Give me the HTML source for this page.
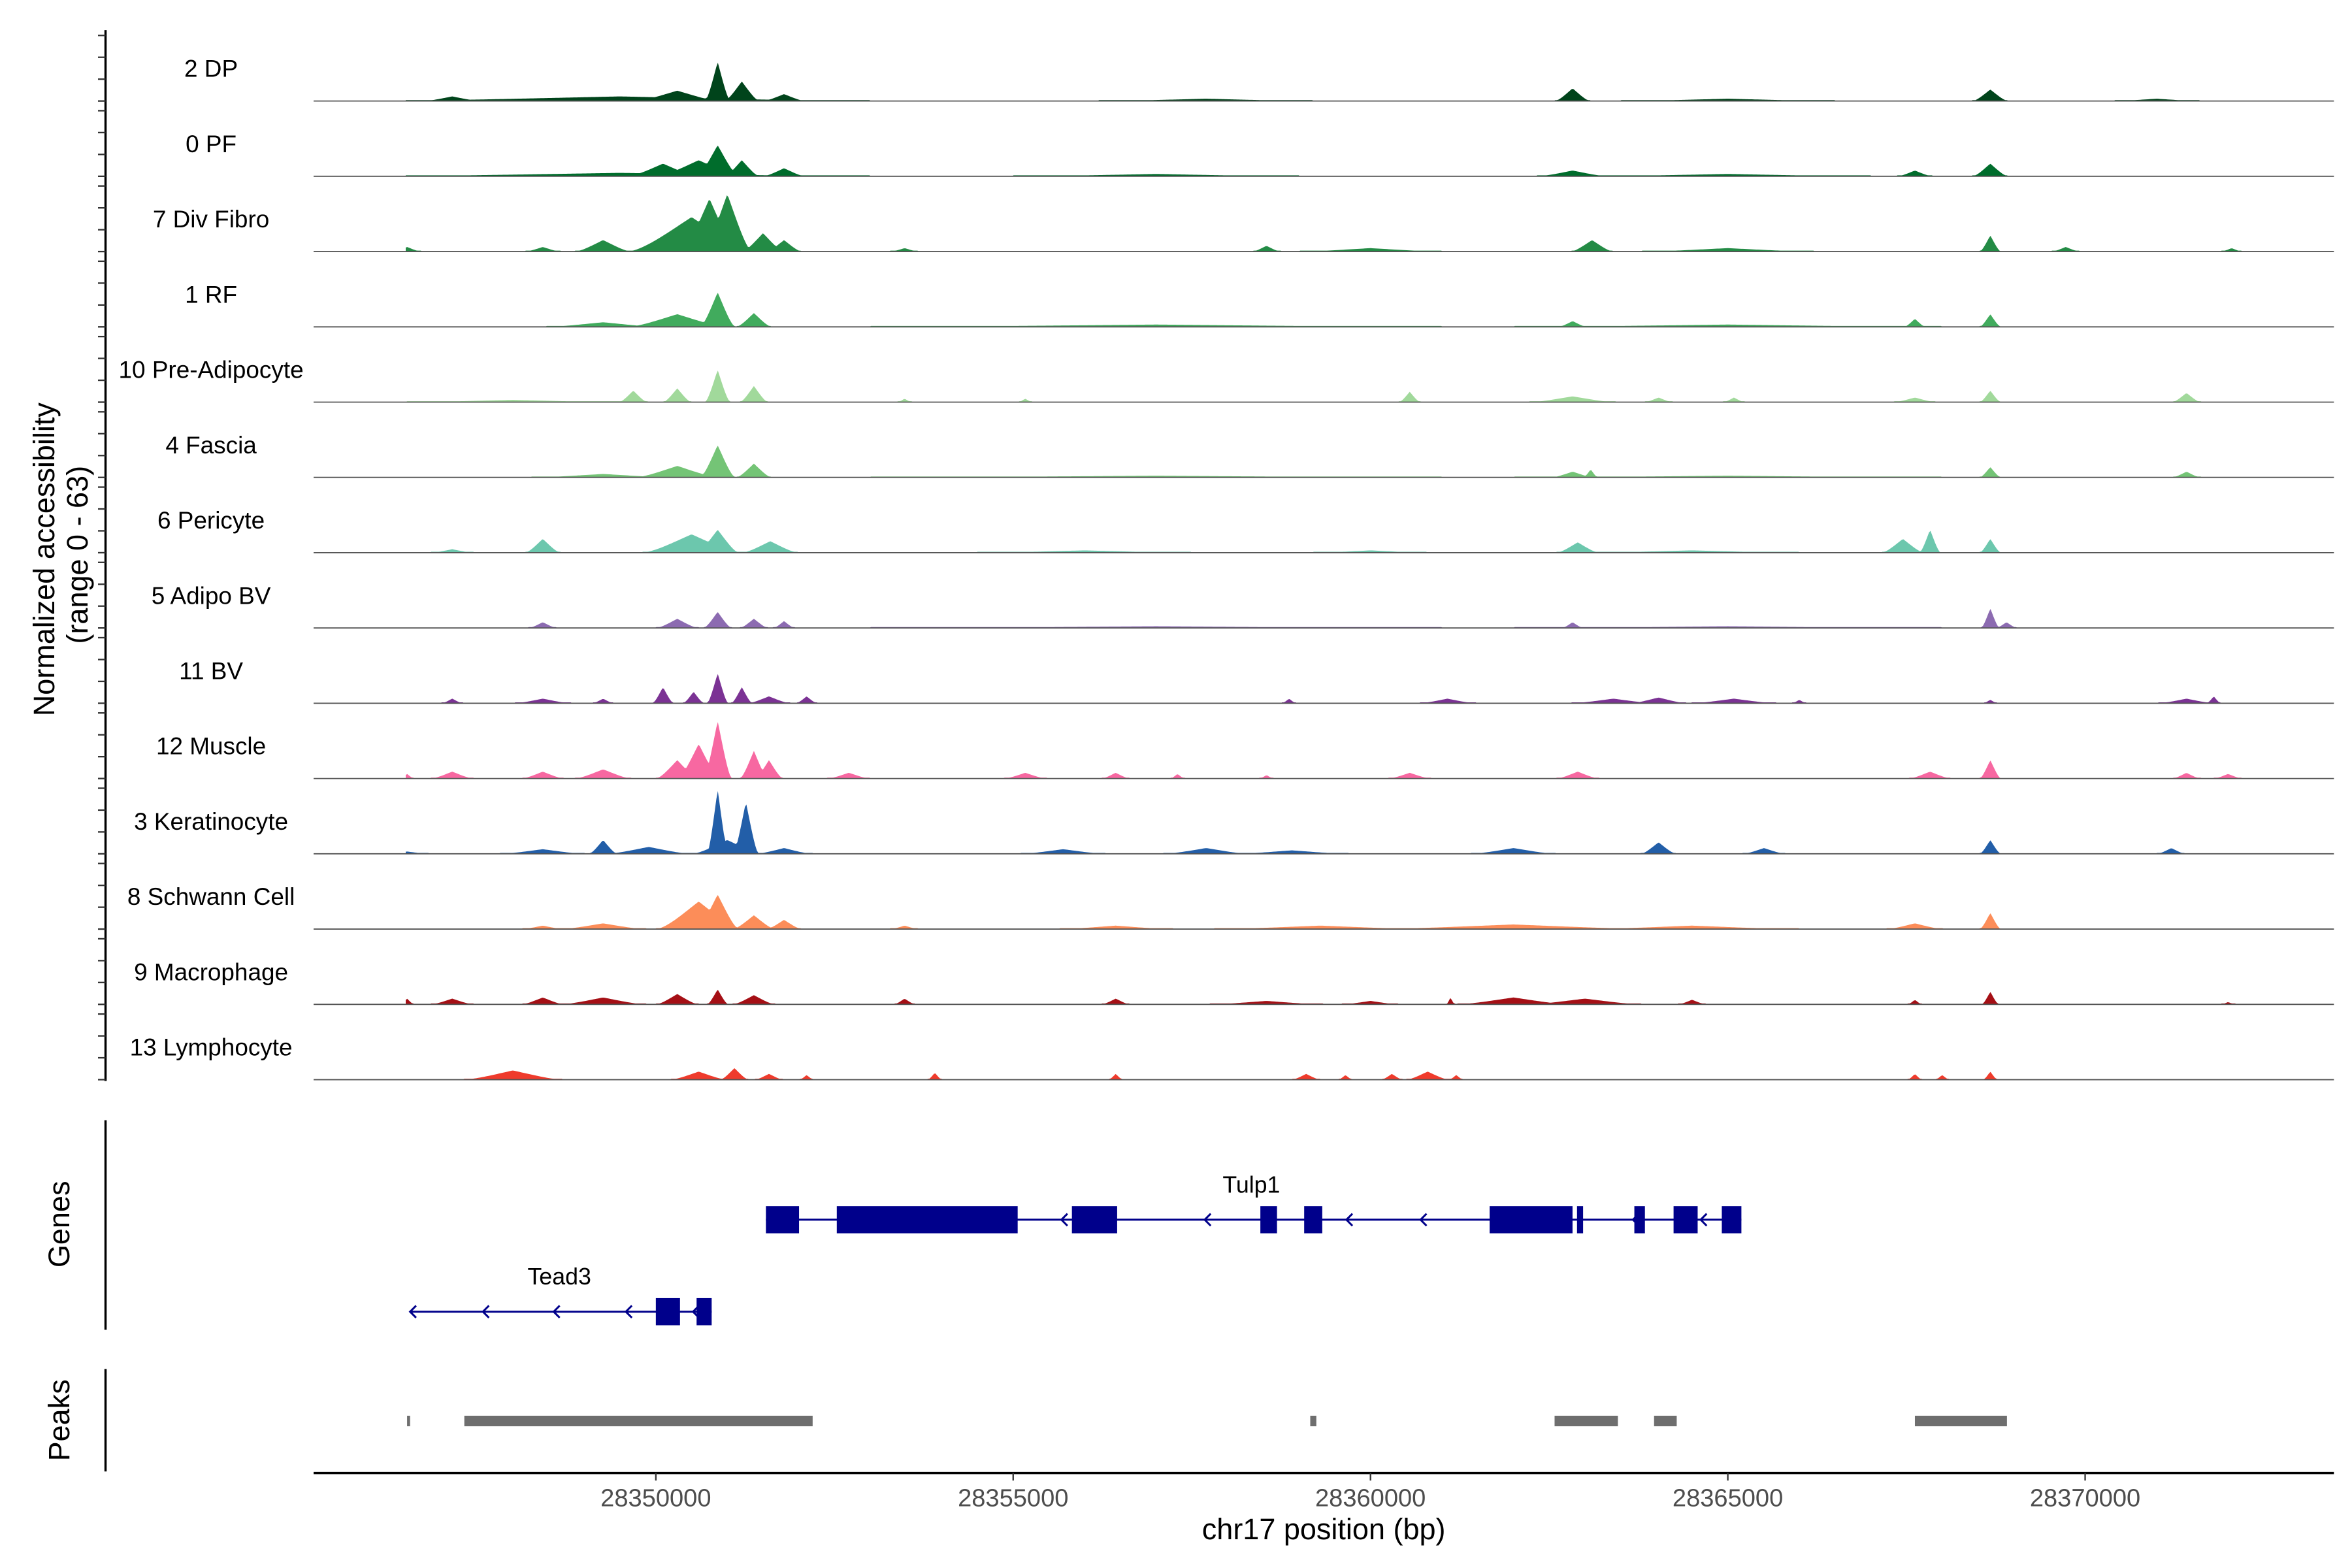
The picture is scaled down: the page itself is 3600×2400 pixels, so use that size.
<!DOCTYPE html>
<html><head><meta charset="utf-8"><style>
html,body{margin:0;padding:0;background:#fff;}
svg{display:block;font-family:"Liberation Sans",Arial,sans-serif;}
</style></head><body>
<svg id="chart" width="3600" height="2400" viewBox="0 0 1560 1040" xmlns="http://www.w3.org/2000/svg">
<rect width="1560" height="1040" fill="#fff"/>
<g id="tracks"></g>
<g id="genes"></g>
<g id="peaks"></g>
<g id="axes"></g>
<text transform="translate(36,371) rotate(-90)" text-anchor="middle" font-size="19.5" fill="#000">Normalized accessibility</text>
<text transform="translate(58,368) rotate(-90)" text-anchor="middle" font-size="19.5" fill="#000">(range 0 - 63)</text>
<text transform="translate(46,812) rotate(-90)" text-anchor="middle" font-size="19.5" fill="#000">Genes</text>
<text transform="translate(46,942) rotate(-90)" text-anchor="middle" font-size="19.5" fill="#000">Peaks</text>
<text x="878" y="1021" text-anchor="middle" font-size="19.5" fill="#000">chr17 position (bp)</text>
</svg>
<script>
const trackNames = ["2 DP","0 PF","7 Div Fibro","1 RF","10 Pre-Adipocyte","4 Fascia","6 Pericyte","5 Adipo BV","11 BV","12 Muscle","3 Keratinocyte","8 Schwann Cell","9 Macrophage","13 Lymphocyte"];
const trackColors = ["#00441b","#006d2c","#238b45","#41ab5d","#a1d99b","#74c476","#6cc7ad","#8c6bb1","#7b3294","#f768a1","#225ea8","#fc8d59","#a50f15","#ef3b2c"];
// peaks per track: [center bp, height (0-63), half-width bp]
const peaks2DP = [[28349500,4,3500],[28347151,4,400],[28348840,3,500],[28350300,9,600],[28350865,34,180],[28351203,17,250],[28351794,6,300],[28362828,11,250],[28368673,10,250],[28357700,2,1500],[28365000,2,1500],[28371000,2,600]];
const peaks0PF = [[28349500,3,3500],[28350100,11,500],[28350865,27,300],[28350600,14,600],[28351203,14,250],[28351794,7,300],[28362828,5,500],[28368673,11,250],[28367618,5,250],[28357000,2,2000],[28365000,2,2000]];
const peaks7DivFibro = [[28350500,30,900],[28350750,46,400],[28351000,50,350],[28351500,16,300],[28351794,10,250],[28349262,10,400],[28348418,4,250],[28346519,4,200],[28363100,10,300],[28368673,14,150],[28358545,5,200],[28360000,3,1000],[28365000,3,1200],[28353481,3,200],[28369729,4,200],[28372050,3,150]];
const peaks1RF = [[28350300,11,700],[28350865,30,250],[28351372,12,250],[28349262,4,800],[28362828,5,200],[28367618,7,150],[28368673,11,150],[28357000,2,4000],[28365000,2,3000]];
const peaks10PreAdipo = [[28350865,28,180],[28350300,12,200],[28349684,10,200],[28351372,14,200],[28360549,9,150],[28362828,5,600],[28364031,4,200],[28365086,4,150],[28368673,10,150],[28371418,8,200],[28348000,2,1500],[28367618,4,300],[28355169,3,100],[28353481,3,100]];
const peaks4Fascia = [[28350865,28,250],[28350300,10,600],[28351372,12,250],[28349262,3,1000],[28362828,5,300],[28363081,7,100],[28368673,9,150],[28371418,5,200],[28357000,1.5,4000],[28365000,1.5,3000]];
const peaks6Pericyte = [[28348418,12,250],[28350500,16,700],[28350865,20,300],[28351600,10,400],[28347151,3,300],[28362900,9,300],[28367450,12,300],[28367830,20,150],[28368673,12,150],[28360000,2,800],[28364500,2,1500],[28356000,2,1500]];
const peaks5AdipoBV = [[28350865,14,200],[28350300,8,300],[28351372,8,200],[28351794,6,150],[28348418,5,200],[28362828,5,150],[28368673,17,130],[28368900,5,150],[28357000,1.5,4000],[28365000,1.5,3000]];
const peaks11BV = [[28350865,26,150],[28350100,14,150],[28350528,10,150],[28351203,14,150],[28351583,6,300],[28352110,6,150],[28347151,4,150],[28348418,4,400],[28349262,4,150],[28358861,4,100],[28361077,4,400],[28363398,4,600],[28364031,5,400],[28365086,4,600],[28366000,3,100],[28368673,3,100],[28371418,4,400],[28371800,6,100]];
const peaks12Muscle = [[28350865,50,200],[28350600,30,300],[28350300,16,300],[28351372,24,200],[28351583,16,200],[28349262,8,400],[28348418,6,300],[28347151,6,300],[28346519,4,100],[28352700,5,300],[28355169,5,300],[28356435,5,200],[28357300,4,100],[28358545,3,100],[28360549,5,300],[28362900,6,300],[28367830,6,300],[28368673,16,150],[28371418,5,200],[28372000,4,200]];
const peaks3Kerat = [[28350865,56,150],[28351260,45,180],[28351000,12,500],[28349262,12,200],[28349900,6,600],[28348418,4,600],[28351794,5,400],[28346519,2,300],[28355700,4,600],[28357701,5,600],[28362000,5,600],[28364031,10,250],[28365508,5,300],[28368673,12,150],[28371206,5,200],[28358900,3,800]];
const peaks8Schwann = [[28350600,24,600],[28350865,30,300],[28351372,12,300],[28351794,8,250],[28349262,5,600],[28348418,3,300],[28362000,4,2000],[28364500,3,1500],[28368673,14,150],[28367618,5,400],[28356435,3,800],[28353481,3,200],[28359300,3,1500]];
const peaks9Macro = [[28350865,13,150],[28350300,9,300],[28351372,8,300],[28348418,6,300],[28349262,6,600],[28347151,5,300],[28346519,5,100],[28353481,5,150],[28356435,5,200],[28362000,6,800],[28363000,5,800],[28361120,6,60],[28364500,4,200],[28367618,4,100],[28368673,11,120],[28358545,3,800],[28360000,3,400],[28372000,2,100]];
const peaks13Lympho = [[28348000,8,700],[28350600,7,400],[28351100,10,200],[28351583,5,200],[28352110,4,100],[28353904,6,100],[28356435,5,100],[28359100,5,200],[28359650,4,100],[28360300,5,150],[28360800,7,300],[28361200,4,100],[28367618,5,100],[28368000,4,100],[28368673,7,100]];
const trackPeaks = [peaks2DP,peaks0PF,peaks7DivFibro,peaks1RF,peaks10PreAdipo,peaks4Fascia,peaks6Pericyte,peaks5AdipoBV,peaks11BV,peaks12Muscle,peaks3Kerat,peaks8Schwann,peaks9Macro,peaks13Lympho];
const dataStart = 28346500, dataEnd = 28372300;
const xTicks = [28350000,28355000,28360000,28365000,28370000];
const tulp1Exons = [[28351540,28352004],[28352532,28355063],[28355822,28356455],[28358459,28358692],[28359072,28359325],[28361667,28362827],[28362890,28362975],[28363692,28363840],[28364241,28364578],[28364916,28365190]];
const tulp1Arrows = [28355675,28357680,28359663,28360700,28363672,28364620];
const tead3Exons = [[28350000,28350338],[28350570,28350781]];
const tead3Arrows = [28346561,28347580,28348570,28349580,28350520];
const peakRegions = [[28346519,28346561],[28347320,28352194],[28359157,28359242],[28362576,28363462],[28363968,28364285],[28367618,28368906]];

const NS = "http://www.w3.org/2000/svg";
const X = bp => 435 + (bp - 28350000) * 0.0474;
const Y = (base, v) => base - v * 0.762;
function mk(tag, attrs, parent){const e=document.createElementNS(NS,tag);for(const k in attrs)e.setAttribute(k,attrs[k]);parent.appendChild(e);return e;}

const tg = document.getElementById('tracks');
trackNames.forEach((name,i)=>{
  const base = 67 + i*49.93;
  const g = mk('g',{},tg);
  
  
  const lab = mk('text',{x:140,y:base-16,'text-anchor':'middle','font-size':16,fill:'#000'},g);
  lab.textContent = name;
  
  
  let d = 'M' + X(dataStart).toFixed(2) + ' ' + base;
  const pk = trackPeaks[i];
  for(let bp=dataStart; bp<=dataEnd; bp+=21){
    let v=0;
    for(const p of pk){const t=Math.abs(bp-p[0])/p[2]; if(t<1){const val=p[1]*Math.pow(1-t,1.6)*(1+0.4*t); if(val>v)v=val;}}
    if(v>0 && v<0.8) v = 0.8;
    d += 'L' + X(bp).toFixed(2) + ' ' + Y(base,v).toFixed(2);
  }
  d += 'L' + X(dataEnd).toFixed(2) + ' ' + base + 'Z';
  const area = mk('path',{d:d,fill:trackColors[i],stroke:'none'},g);
  
  
  const bl = mk('line',{x1:208,x2:1548,y1:base,y2:base,stroke:'#555','stroke-width':0.8},g);
  
  
});

const ax = document.getElementById('axes');
mk('line',{x1:70,x2:70,y1:20,y2:717,stroke:'#000','stroke-width':1.5},ax);
for(let i=0;i<14;i++){const b=67+i*49.93;[0,14.5,29,43.5].forEach(o=>mk('line',{x1:65,x2:70,y1:b-o,y2:b-o,stroke:'#333','stroke-width':1},ax));}
mk('line',{x1:70,x2:70,y1:743,y2:882,stroke:'#000','stroke-width':1.5},ax);
mk('line',{x1:70,x2:70,y1:908,y2:976,stroke:'#000','stroke-width':1.5},ax);
const xAxis = mk('line',{x1:208,x2:1548,y1:977,y2:977,stroke:'#000','stroke-width':1.5},ax);


xTicks.forEach(t=>{
  mk('line',{x1:X(t),x2:X(t),y1:977,y2:982,stroke:'#333','stroke-width':1},ax);
  const tl = mk('text',{x:X(t),y:999,'text-anchor':'middle','font-size':16.5,fill:'#4d4d4d'},ax);
  tl.textContent = t;
  
  
});

const gg = document.getElementById('genes');
function drawGene(name, exons, arrows, y, labelX, labelY){
  const g = mk('g',{},gg);
  
  
  const s = exons[0][0] < arrows[0] ? exons[0][0] : arrows[0];
  const e = exons[exons.length-1][1];
  mk('line',{x1:X(s),x2:X(e),y1:y,y2:y,stroke:'#00008b','stroke-width':1.3},g);
  exons.forEach(ex=>{
    const r = mk('rect',{x:X(ex[0]),y:y-9,width:X(ex[1])-X(ex[0]),height:18,fill:'#00008b'},g);
    
    
  });
  arrows.forEach(a=>{const x=X(a);mk('path',{d:`M${x+4} ${y-4}L${x} ${y}L${x+4} ${y+4}`,fill:'none',stroke:'#00008b','stroke-width':1.3},g);});
  const t = mk('text',{x:labelX,y:labelY,'text-anchor':'middle','font-size':15.5,fill:'#000'},g);
  t.textContent = name;
  
  
}
drawGene('Tulp1', tulp1Exons, tulp1Arrows, 809, 830, 791);
drawGene('Tead3', tead3Exons, tead3Arrows, 870, 371, 852);

const pg = document.getElementById('peaks');
peakRegions.forEach(p=>{
  const r = mk('rect',{x:X(p[0]),y:939,width:Math.max(2,X(p[1])-X(p[0])),height:7,fill:'#6e6e6e'},pg);
  
  
});
</script>
</body></html>
